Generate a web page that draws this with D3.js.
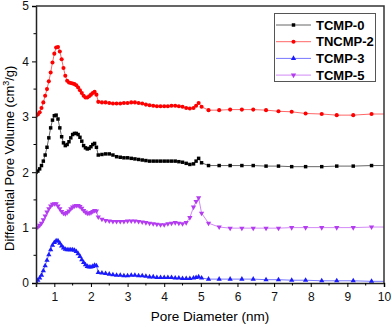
<!DOCTYPE html>
<html>
<head>
<meta charset="utf-8">
<script src="https://cdn.jsdelivr.net/npm/d3@7"></script>
<style>
	body { margin: 0; background: #fff; }
	text { font-family: "Liberation Sans", Arial, sans-serif; }
</style>
</head>
<body>
<script>

// pore diameters (nm), shared by all samples
var poreSize = [
	0.50, 0.55, 0.60, 0.65, 0.70, 0.75, 0.80, 0.85, 0.90, 0.95,
	1.00, 1.05, 1.10, 1.15, 1.20, 1.25, 1.30, 1.35, 1.40, 1.45,
	1.50, 1.55, 1.60, 1.65, 1.70, 1.75, 1.80, 1.85, 1.90, 1.95,
	2.00, 2.05, 2.10, 2.15, 2.20,
	2.30, 2.40, 2.50, 2.60, 2.70, 2.80, 2.90, 3.00, 3.10, 3.20,
	3.30, 3.40, 3.50, 3.60, 3.70, 3.80, 3.90, 4.00, 4.10, 4.20,
	4.30, 4.40, 4.50, 4.60, 4.70, 4.80,
	4.87, 4.94, 5.02,
	5.21, 5.50, 5.80, 6.12, 6.43, 6.78, 7.12, 7.48, 7.86, 8.30,
	8.71, 9.16, 9.66, 10.15
];

// differential pore volume (offset curves, cm3/g)
var tcmp0 = [
	2.00, 2.02, 2.06, 2.12, 2.20, 2.31, 2.45, 2.62, 2.80, 2.94,
	3.02, 3.03, 2.96, 2.80, 2.64, 2.53, 2.48, 2.50, 2.55, 2.62,
	2.68, 2.70, 2.70, 2.68, 2.63, 2.56, 2.48, 2.44, 2.42, 2.43,
	2.46, 2.50, 2.52, 2.45, 2.31,
	2.32, 2.33, 2.33, 2.31, 2.28, 2.27, 2.26, 2.26, 2.25, 2.24,
	2.23, 2.22, 2.21, 2.20, 2.20, 2.20, 2.20, 2.20, 2.20, 2.20,
	2.20, 2.19, 2.18, 2.16, 2.14, 2.15,
	2.20, 2.25, 2.17,
	2.12, 2.12, 2.12, 2.12, 2.12, 2.11, 2.11, 2.10, 2.10, 2.10,
	2.11, 2.11, 2.12, 2.12
];

var tncmp2 = [
	3.02, 3.04, 3.08, 3.16, 3.26, 3.38, 3.50, 3.64, 3.80, 3.98,
	4.14, 4.25, 4.26, 4.18, 4.04, 3.88, 3.74, 3.65, 3.62, 3.61,
	3.60, 3.59, 3.57, 3.53, 3.48, 3.43, 3.38, 3.35, 3.35, 3.37,
	3.40, 3.43, 3.45, 3.40, 3.27,
	3.26, 3.26, 3.25, 3.24, 3.24, 3.24, 3.25, 3.25, 3.26, 3.26,
	3.25, 3.24, 3.22, 3.21, 3.20, 3.19, 3.19, 3.19, 3.19, 3.20,
	3.20, 3.19, 3.18, 3.16, 3.15, 3.16,
	3.20, 3.25, 3.18,
	3.12, 3.12, 3.13, 3.13, 3.13, 3.12, 3.10, 3.09, 3.06, 3.05,
	3.03, 3.03, 3.05, 3.05
];

var tcmp3 = [
	0.02, 0.05, 0.09, 0.14, 0.22, 0.31, 0.41, 0.51, 0.60, 0.68,
	0.73, 0.76, 0.76, 0.72, 0.67, 0.63, 0.61, 0.60, 0.60, 0.60,
	0.60, 0.59, 0.57, 0.53, 0.48, 0.42, 0.37, 0.33, 0.30, 0.29,
	0.29, 0.30, 0.32, 0.31, 0.19,
	0.18, 0.17, 0.16, 0.15, 0.14, 0.14, 0.13, 0.13, 0.14, 0.14,
	0.13, 0.13, 0.12, 0.11, 0.11, 0.10, 0.10, 0.10, 0.10, 0.10,
	0.09, 0.09, 0.08, 0.08, 0.08, 0.09,
	0.10, 0.11, 0.09,
	0.07, 0.07, 0.07, 0.07, 0.07, 0.06, 0.06, 0.05, 0.05, 0.04,
	0.04, 0.04, 0.03, 0.03
];

var tcmp5 = [
	0.99, 1.01, 1.04, 1.08, 1.14, 1.21, 1.28, 1.34, 1.39, 1.42,
	1.43, 1.43, 1.39, 1.34, 1.29, 1.26, 1.25, 1.27, 1.30, 1.34,
	1.37, 1.39, 1.40, 1.40, 1.38, 1.35, 1.31, 1.28, 1.26, 1.26,
	1.27, 1.29, 1.31, 1.30, 1.19,
	1.15, 1.13, 1.12, 1.11, 1.11, 1.11, 1.11, 1.12, 1.12, 1.12,
	1.11, 1.10, 1.09, 1.08, 1.07, 1.06, 1.05, 1.05, 1.07, 1.08,
	1.09, 1.08, 1.07, 1.09, 1.18, 1.37,
	1.47, 1.54, 1.26,
	1.08, 1.01, 0.99, 0.99, 0.99, 0.99, 0.99, 1.00, 1.00, 1.00,
	1.00, 1.00, 1.01, 1.01
];

var seriesNames = ["TCMP-0", "TNCMP-2", "TCMP-3", "TCMP-5"];
var seriesColors = ["#000000", "#ff0000", "#1a1aff", "#b43cf0"];
var seriesSymbols = [d3.symbolSquare, d3.symbolCircle, d3.symbolTriangle, d3.symbolTriangle];

var xTicks = [1, 2, 3, 4, 5, 6, 7, 8, 9, 10];
var yTicks = [0, 1, 2, 3, 4, 5];

window.onload = drawChart();

function drawChart(){

	var width = 392,
		height = 327;

	var plot = { left: 36, top: 6, right: 384, bottom: 283 };

	var svg = d3.select("body")
		.append("svg")
		.attr("width", width)
		.attr("height", height);

	var x = d3.scaleLinear()
		.domain([0.5, 10])
		.range([plot.left, plot.right]);

	var y = d3.scaleLinear()
		.domain([0, 5])
		.range([plot.bottom, plot.top]);

	// clip the curves to the frame
	svg.append("clipPath")
		.attr("id", "plotclip")
		.append("rect")
		.attr("x", plot.left)
		.attr("y", plot.top - 4)
		.attr("width", plot.right - plot.left)
		.attr("height", plot.bottom - plot.top + 8);

	var allSeries = [tcmp0, tncmp2, tcmp3, tcmp5];

	var line = d3.line()
		.x(function(d){ return x(d[0]); })
		.y(function(d){ return y(d[1]); });

	var curves = svg.append("g").attr("clip-path", "url(#plotclip)");

	// one line + markers per sample
	allSeries.forEach(function(vals, i){
		var pts = poreSize.map(function(p, j){ return [p, vals[j]]; });
		var g = curves.append("g");

		g.append("path")
			.datum(pts)
			.attr("fill", "none")
			.attr("stroke", seriesColors[i])
			.attr("stroke-opacity", 0.6)
			.attr("stroke-width", 1)
			.attr("d", line);

		var sym = d3.symbol().type(seriesSymbols[i]).size(i == 1 ? 13 : 12);

		g.selectAll("path.mk")
			.data(pts)
			.enter()
			.append("path")
			.attr("class", "mk")
			.attr("fill", seriesColors[i])
			.attr("transform", function(d){
				var rot = i == 3 ? " rotate(180)" : "";
				return "translate(" + x(d[0]) + "," + y(d[1]) + ")" + rot;
			})
			.attr("d", sym);
	});

	// x axis
	var xAxis = svg.append("g")
		.attr("transform", "translate(0," + plot.bottom + ")")
		.call(d3.axisBottom(x).tickValues(xTicks).tickSize(4).tickFormat(d3.format("d")));

	xAxis.append("g")
		.selectAll("line")
		.data(d3.range(1.5, 10, 1))
		.enter()
		.append("line")
		.attr("x1", function(d){ return x(d); })
		.attr("x2", function(d){ return x(d); })
		.attr("y2", 2.5)
		.attr("stroke", "#000");

	// y axis
	var yAxis = svg.append("g")
		.attr("transform", "translate(" + plot.left + ",0)")
		.call(d3.axisLeft(y).tickValues(yTicks).tickSize(4).tickFormat(d3.format("d")));

	yAxis.append("g")
		.selectAll("line")
		.data([0.5, 1.5, 2.5, 3.5, 4.5])
		.enter()
		.append("line")
		.attr("y1", function(d){ return y(d); })
		.attr("y2", function(d){ return y(d); })
		.attr("x2", -2.5)
		.attr("stroke", "#000");

	svg.selectAll(".domain").attr("stroke-width", 1.5).attr("stroke", "#222");
	svg.selectAll(".tick text").attr("font-size", 12).attr("fill", "#111")
		.style("font-family", "'Liberation Sans', Arial, sans-serif");
	xAxis.selectAll(".tick text").attr("dy", "0.95em");

	// frame: top and right edges
	svg.append("path")
		.attr("d", "M" + plot.left + "," + plot.top + "H" + plot.right + "V" + plot.bottom)
		.attr("fill", "none")
		.attr("stroke", "#333")
		.attr("stroke-width", 1.5);

	// axis titles
	svg.append("text")
		.attr("x", (plot.left + plot.right) / 2)
		.attr("y", 321)
		.attr("text-anchor", "middle")
		.attr("font-size", 13.5)
		.text("Pore Diameter (nm)");

	var yTitle = svg.append("text")
		.attr("transform", "translate(14,251) rotate(-90)")
		.attr("text-anchor", "start")
		.attr("font-size", 13);
	yTitle.append("tspan").text("Differential Pore Volume (cm");
	yTitle.append("tspan").attr("dy", -5).attr("font-size", 9).text("3");
	yTitle.append("tspan").attr("dy", 5).text("/g)");

	// legend
	var legend = svg.append("g");

	legend.append("rect")
		.attr("x", 274.5)
		.attr("y", 13.5)
		.attr("width", 101)
		.attr("height", 68)
		.attr("fill", "#fff")
		.attr("stroke", "#555")
		.attr("stroke-width", 1);

	seriesNames.forEach(function(name, i){
		var ly = 25 + i * 16.7;
		legend.append("line")
			.attr("x1", 276)
			.attr("x2", 311)
			.attr("y1", ly)
			.attr("y2", ly)
			.attr("stroke", seriesColors[i])
			.attr("stroke-opacity", 0.6);
		legend.append("path")
			.attr("fill", seriesColors[i])
			.attr("transform", "translate(293.5," + ly + ")" + (i == 3 ? " rotate(180)" : ""))
			.attr("d", d3.symbol().type(seriesSymbols[i]).size(i == 1 ? 13 : 12));
		legend.append("text")
			.attr("x", 316)
			.attr("y", ly + 4.6)
			.attr("font-size", 13)
			.attr("font-weight", "bold")
			.text(name);
	});
};
</script>
</body>
</html>
